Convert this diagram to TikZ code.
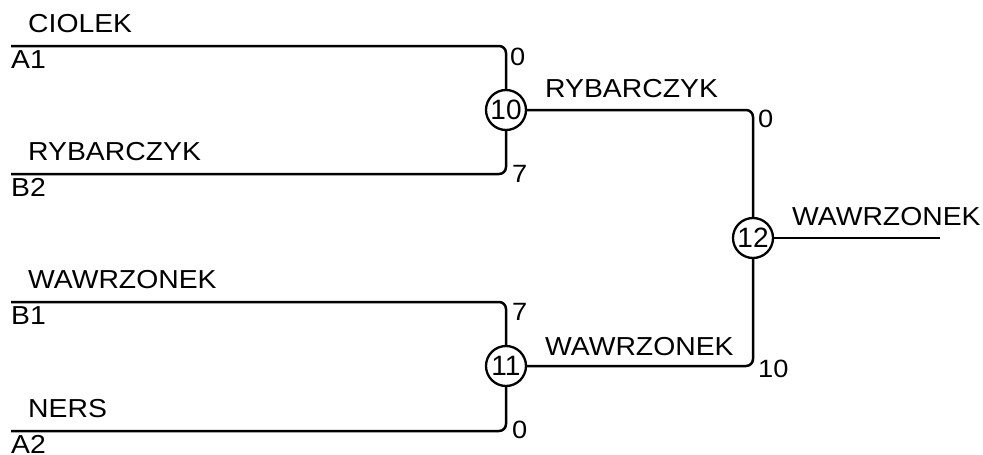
\documentclass[tikz,border=0pt]{standalone}
\usepackage{fontspec}
\setmainfont{Liberation Sans}[FakeStretch=1.09]
\newfontfamily\cfont{Liberation Sans}
\begin{document}
\begin{tikzpicture}[x=1pt,y=-1pt,
  wire/.style={line width=2.5pt,rounded corners=7pt},
  match/.style={circle,draw,line width=2.3pt,minimum size=40pt,inner sep=0pt,font=\cfont\fontsize{28}{28}\selectfont},
  lbl/.style={anchor=base west,inner sep=0pt,font=\fontsize{26}{26}\selectfont},
  num/.style={anchor=base west,inner sep=0pt,font=\fontsize{25}{25}\selectfont}]
\useasboundingbox (0,0) rectangle (983,455);
% coordinates of the line starts and end
\coordinate (a1) at (11,46);
\coordinate (b2) at (11,174);
\coordinate (b1) at (11,302);
\coordinate (a2) at (11,431);
\coordinate (out) at (940,238);
% match circles
\node[match] (c10) at (506,110) {10};
\node[match] (c11) at (506,366) {11};
\node[match] (c12) at (753,238) {12};
% connectors
\draw[wire] (a1) -| (c10);
\draw[wire] (b2) -| (c10);
\draw[wire] (b1) -| (c11);
\draw[wire] (a2) -| (c11);
\draw[wire] (c10) -| (c12);
\draw[wire] (c11) -| (c12);
\draw[wire] (c12) -- (out);
% names
\node[lbl] (nciolek) at (28,32) {CIOLEK};
\node[lbl] (na1) at (11,68) {A1};
\node[lbl] (nryb) at (28,160) {RYBARCZYK};
\node[lbl] (nb2) at (11,196) {B2};
\node[lbl] (nwaw) at (28,288) {WAWRZONEK};
\node[lbl] (nb1) at (11,324) {B1};
\node[lbl] (ners) at (28,417) {NERS};
\node[lbl] (na2) at (11,453) {A2};
\node[lbl] (nryb2) at (545,97) {RYBARCZYK};
\node[lbl] (nwaw2) at (545,355) {WAWRZONEK};
\node[lbl] (nwaw3) at (792,225) {WAWRZONEK};
% scores
\node[num] (s1) at (510,65) {0};
\node[num] (s2) at (512,182) {7};
\node[num] (s3) at (512,320) {7};
\node[num] (s4) at (512,438) {0};
\node[num] (s5) at (758,127) {0};
\node[num] (s6) at (758,377) {10};
\end{tikzpicture}
\end{document}
